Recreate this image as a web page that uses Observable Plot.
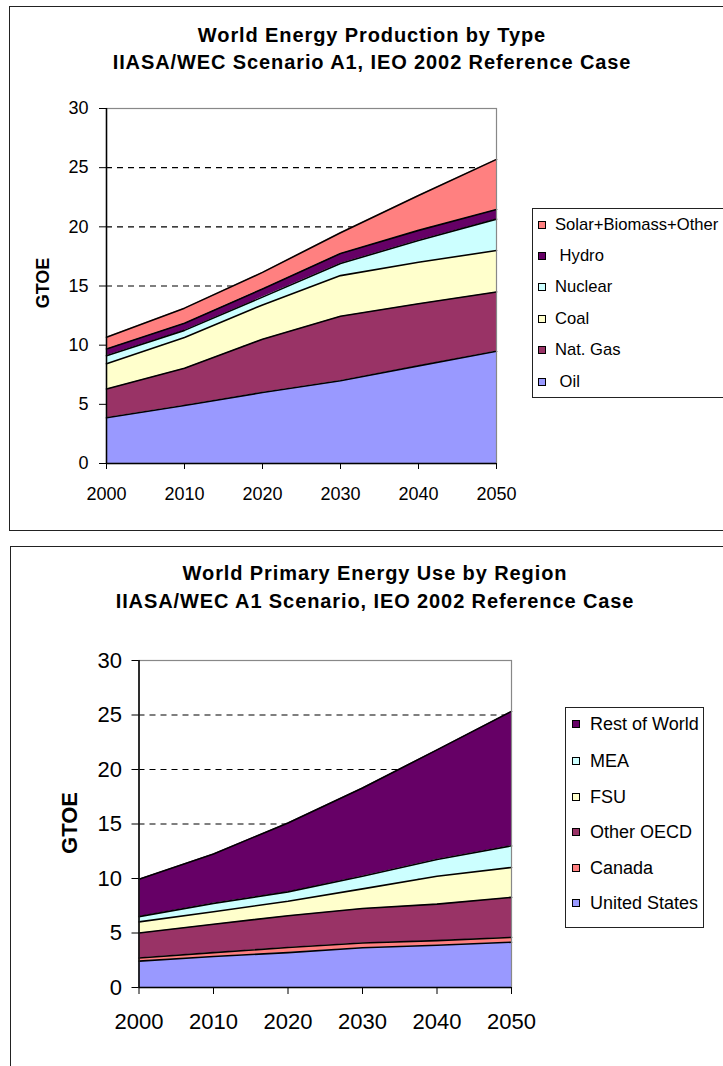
<!DOCTYPE html>
<html><head><meta charset="utf-8">
<script src="https://cdn.jsdelivr.net/npm/d3@7"></script>
<script src="https://cdn.jsdelivr.net/npm/@observablehq/plot@0.6"></script>
<style>
html,body{margin:0;padding:0;background:#fff;}
#page{position:relative;width:723px;height:1066px;overflow:hidden;font-family:Arial,"Liberation Sans",Helvetica,sans-serif;color:#000;background:#fff;}
.frame{position:absolute;border:1.5px solid #222;box-sizing:border-box;}
.title{position:absolute;width:800px;text-align:center;font-weight:bold;font-size:20px;line-height:20px;letter-spacing:0.9px;white-space:nowrap;}
.ylab{position:absolute;font-weight:bold;white-space:nowrap;transform:translate(-50%,-50%) rotate(-90deg);}
.legend{position:absolute;border:1.5px solid #222;box-sizing:border-box;background:#fff;}
.lrow{position:absolute;white-space:pre;}
.sw{position:absolute;border:1.2px solid #000;box-sizing:border-box;}
.plotwrap{position:absolute;left:0;}
</style></head>
<body><div id="page"></div>
<script>
// ---------- DATA ----------
const years = [2000, 2010, 2020, 2030, 2040, 2050];
const yTicks = [0, 5, 10, 15, 20, 25, 30];
const gridTicks = [5, 10, 15, 20, 25];

// Chart 1: World Energy Production by Type (GTOE)
const typeNames = ["Oil", "Nat. Gas", "Coal", "Nuclear", "Hydro", "Solar+Biomass+Other"];
const typeLegendLabels = [" Oil", "Nat. Gas", "Coal", "Nuclear", " Hydro", "Solar+Biomass+Other"];
const typeColors = ["#9999FF", "#993366", "#FFFFCC", "#CCFFFF", "#660066", "#FF8080"];
const oil     = [3.86, 4.90, 6.00, 7.00, 8.25, 9.48];
const natGas  = [2.44, 3.15, 4.50, 5.45, 5.25, 5.02];
const coal    = [2.13, 2.60, 2.90, 3.43, 3.50, 3.50];
const nuclear = [0.67, 0.60, 0.66, 1.02, 1.85, 2.65];
const hydro   = [0.58, 0.61, 0.69, 0.85, 0.85, 0.82];
const solarBiomassOther = [0.99, 1.27, 1.40, 1.75, 2.94, 4.23];

// Chart 2: World Primary Energy Use by Region (GTOE)
const regionNames = ["United States", "Canada", "Other OECD", "FSU", "MEA", "Rest of World"];
const regionColors = ["#9999FF", "#FF8080", "#993366", "#FFFFCC", "#CCFFFF", "#660066"];
const unitedStates = [2.42, 2.85, 3.20, 3.65, 3.88, 4.15];
const canada       = [0.28, 0.35, 0.47, 0.43, 0.42, 0.45];
const otherOECD    = [2.30, 2.60, 2.91, 3.17, 3.35, 3.67];
const fsu          = [1.02, 1.15, 1.34, 1.80, 2.55, 2.74];
const mea          = [0.48, 0.77, 0.85, 1.15, 1.55, 1.99];
const restOfWorld  = [3.43, 4.53, 6.33, 8.10, 10.05, 12.33];

function tidy(names, arrays) {
  return names.flatMap((name, i) => years.map((yr, j) => ({year: yr, series: name, value: arrays[i][j]})));
}
const typeRows = tidy(typeNames, [oil, natGas, coal, nuclear, hydro, solarBiomassOther]);
const regionRows = tidy(regionNames, [unitedStates, canada, otherOECD, fsu, mea, restOfWorld]);

const page = document.getElementById("page");
function el(cls, css, text) {
  const d = document.createElement("div");
  if (cls) d.className = cls;
  Object.assign(d.style, css);
  if (text != null) d.textContent = text;
  page.appendChild(d);
  return d;
}

function makeChart(cfg) {
  const plot = Plot.plot({
    width: cfg.width, height: cfg.height,
    marginLeft: cfg.mL, marginRight: cfg.mR, marginTop: cfg.mT, marginBottom: cfg.mB,
    style: {fontFamily: 'Arial, "Liberation Sans", sans-serif', color: "#000", background: "transparent", overflow: "visible"},
    x: {domain: [years[0], years[years.length - 1]], label: null},
    y: {domain: [0, 30], label: null},
    color: {domain: cfg.names, range: cfg.colors},
    marks: [
      Plot.gridY(gridTicks, {stroke: "#000", strokeOpacity: 1, strokeDasharray: "6,5", strokeWidth: 1.1}),
      Plot.areaY(cfg.rows, Plot.stackY({x: "year", y: "value", z: "series", fill: "series", order: cfg.names})),
      Plot.lineY(cfg.rows, Plot.stackY2({x: "year", y: "value", z: "series", order: cfg.names, stroke: "#000", strokeWidth: 1.6})),
      Plot.frame({stroke: "#888", strokeWidth: 1.2}),
      Plot.ruleY([0], {stroke: "#000", strokeWidth: 1.5}),
      Plot.ruleX([years[0]], {stroke: "#000", strokeWidth: 1.5}),
      Plot.axisX({ticks: years, tickFormat: d => String(d), tickSize: cfg.xTickSize, tickPadding: cfg.xTickPad, fontSize: cfg.tickFont, stroke: "#000"}),
      Plot.axisY({ticks: yTicks, tickSize: 7, tickPadding: cfg.yTickPad, fontSize: cfg.tickFont, stroke: "#000"})
    ]
  });
  const wrap = el("plotwrap", {top: cfg.top + "px"});
  wrap.appendChild(plot);
}

// ---------- Chart 1 ----------
el("frame", {left: "9px", top: "6px", width: "760px", height: "525px"});
el("title", {left: (372 - 400) + "px", top: "25px"}, "World Energy Production by Type");
el("title", {left: (372 - 400) + "px", top: "52px"}, "IIASA/WEC Scenario A1, IEO 2002 Reference Case");
el("ylab", {left: "43px", top: "283px", fontSize: "18px"}, "GTOE");
makeChart({rows: typeRows, names: typeNames, colors: typeColors, top: 90, width: 520, height: 420,
  mL: 106, mR: 24, mT: 18, mB: 47, tickFont: 18, xTickSize: 6, xTickPad: 18, yTickPad: 11});
{
  el("legend", {left: "532px", top: "208px", width: "240px", height: "190px"});
  const rowsY = [225, 256, 287, 319, 350, 382];
  const order = typeNames.map((_, i) => i).reverse();
  order.forEach((idx, k) => {
    const cy = rowsY[k];
    el("sw", {left: "538px", top: (cy - 4) + "px", width: "8px", height: "8px", background: typeColors[idx]});
    el("lrow", {left: "555px", top: (cy - 10) + "px", fontSize: "16.6px", lineHeight: "20px"}, typeLegendLabels[idx]);
  });
}

// ---------- Chart 2 ----------
el("frame", {left: "10px", top: "546px", width: "760px", height: "560px"});
el("title", {left: (375 - 400) + "px", top: "563px"}, "World Primary Energy Use by Region");
el("title", {left: (375 - 400) + "px", top: "591px"}, "IIASA/WEC A1 Scenario, IEO 2002 Reference Case");
el("ylab", {left: "70px", top: "823px", fontSize: "22px"}, "GTOE");
makeChart({rows: regionRows, names: regionNames, colors: regionColors, top: 620, width: 540, height: 446,
  mL: 138.5, mR: 29, mT: 40, mB: 79, tickFont: 22, xTickSize: 7, xTickPad: 19, yTickPad: 10});
{
  el("legend", {left: "565px", top: "707px", width: "139px", height: "221px"});
  const rowsY = [724, 761, 797, 832, 868, 903];
  const order = regionNames.map((_, i) => i).reverse();
  order.forEach((idx, k) => {
    const cy = rowsY[k];
    el("sw", {left: "572px", top: (cy - 4) + "px", width: "8px", height: "8px", background: regionColors[idx]});
    el("lrow", {left: "590px", top: (cy - 10) + "px", fontSize: "18px", lineHeight: "20px"}, regionNames[idx]);
  });
}
</script></body></html>
